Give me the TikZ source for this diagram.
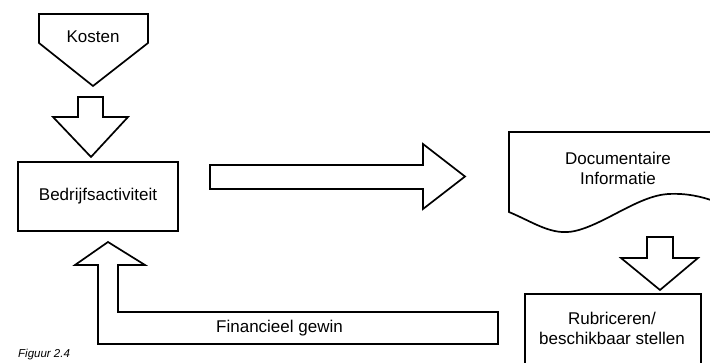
\documentclass[tikz,border=0pt]{standalone}
\usepackage{fontspec}
\setmainfont{Liberation Sans}
\begin{document}
\begin{tikzpicture}[x=1pt,y=-1pt,
  outline/.style={draw, line width=1.7pt, line join=miter, fill=white},
  lbl/.style={font=\fontsize{17}{20.5}\selectfont, inner sep=0pt, align=center},
  boxnode/.style={outline, rectangle, inner sep=0pt}]
\useasboundingbox (0,0) rectangle (710,363);
\clip (0,0) rectangle (710,363);

% Kosten: pentagon pointing down
\draw[outline] (39,14) -- (148,14) -- (148,43) -- (93,86) -- (39,43) -- cycle;
\node[lbl] (kosten) at (93,37) {Kosten};

% Bedrijfsactiviteit
\node[boxnode, minimum width=160pt, minimum height=69pt] (bedrijf) at (98,196.5) {};
\node[lbl] (bedrijftxt) at (bedrijf) {Bedrijfsactiviteit};

% block arrow from Kosten down to Bedrijfsactiviteit
\draw[outline] (78,97) -- (103,97) -- (103,117) -- (128,117) -- (91,157)
  -- (53,117) -- (78,117) -- cycle;

% block arrow to the right
\draw[outline] (210,165) -- (423,165) -- (423,144) -- (465,176.5)
  -- (423,209) -- (423,189) -- (210,189) -- cycle;

% Documentaire Informatie: document shape with wavy lower edge
\draw[outline] (712,132) -- (509,132) -- (509,212)
  .. controls (535,223) and (552,236) .. (575,231)
  .. controls (605,224) and (638,196) .. (668,194)
  .. controls (688,193) and (702,197) .. (714,201);
\node[lbl] (docinfo) at (618,168.5) {Documentaire\\Informatie};

% block arrow down to Rubriceren
\draw[outline] (647,237) -- (673,237) -- (673,258) -- (698,258) -- (660,290)
  -- (621,258) -- (647,258) -- cycle;

% Rubriceren / beschikbaar stellen
\node[boxnode, minimum width=176pt, minimum height=106pt] (rubbox) at (613,347) {};
\node[lbl] (rubtxt) at (612,328.5) {Rubriceren/\\beschikbaar stellen};

% L-shaped block arrow back up to Bedrijfsactiviteit
\draw[outline] (98,265) -- (98,344) -- (498,344) -- (498,312) -- (118,312)
  -- (118,265) -- (145,265) -- (108,242) -- (75,265) -- cycle;
\node[lbl, anchor=west] (gewin) at (216,328) {Financieel gewin};

% figure caption
\node[font=\fontsize{11.5}{13}\itshape, inner sep=0pt, anchor=north west] (caption) at (18,349) {Figuur 2.4};
\end{tikzpicture}
\end{document}
